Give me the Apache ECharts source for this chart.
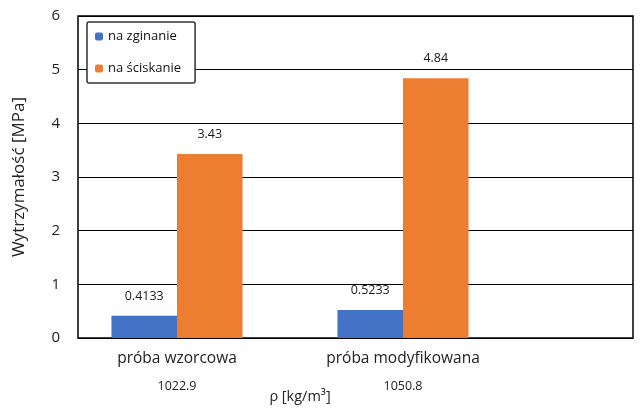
<!DOCTYPE html>
<html><head><meta charset="utf-8">
<script src="https://cdn.jsdelivr.net/npm/echarts@6/dist/echarts.min.js"></script>
<style>html,body{margin:0;padding:0;background:#fff}#c{width:640px;height:409px}</style>
</head><body><div id="c"></div>
<script>
const categories = ['próba wzorcowa', 'próba modyfikowana'];
const densities = ['1022.9', '1050.8'];
const seriesNames = ['na zginanie', 'na ściskanie'];
const bending = [0.4133, 0.5233];
const compression = [3.43, 4.84];
const yTicks = [0, 1, 2, 3, 4, 5, 6];

const chart = echarts.init(document.getElementById('c'), null, {renderer: 'canvas'});
const FONT = 'Open Sans';
const labelCfg = {show: true, position: 'top', distance: 13, color: '#1a1a1a', fontFamily: FONT, fontSize: 12.5};
chart.setOption({
  animation: false,
  backgroundColor: '#fff',
  grid: [
    {left: 78, right: 7, top: 16, bottom: 71, show: true, borderColor: '#000', borderWidth: 1.5, backgroundColor: 'transparent', outerBoundsMode: 'none', containLabel: false},
    {left: 64, right: 124, top: 16, bottom: 71, outerBoundsMode: 'none', containLabel: false}
  ],
  legend: {
    left: 87, top: 22, orient: 'vertical',
    data: seriesNames,
    backgroundColor: '#fff', borderColor: '#333', borderWidth: 1.5, borderRadius: 2,
    padding: [8, 14, 8, 8], itemWidth: 8, itemHeight: 8, itemGap: 19,
    textStyle: {fontFamily: FONT, fontSize: 13, color: '#111'}
  },
  xAxis: [
    {gridIndex: 0, type: 'category', data: categories, show: false},
    {gridIndex: 1, type: 'category', data: categories,
     axisLine: {show: false}, axisTick: {show: false},
     axisLabel: {margin: 10, interval: 0,
       formatter: (v, i) => `{a|${v}}\n{b|${densities[i]}}`,
       rich: {a: {fontFamily: FONT, fontSize: 15.5, color: '#222', lineHeight: 22},
              b: {fontFamily: FONT, fontSize: 12.5, color: '#222', lineHeight: 32}}},
     name: 'ρ [kg/m³]', nameLocation: 'middle', nameGap: 51, nameMoveOverlap: false,
     nameTextStyle: {fontFamily: FONT, fontSize: 14.5, color: '#222', padding: [0, 0, 0, 20]}}
  ],
  yAxis: [
    {gridIndex: 0, type: 'value', min: yTicks[0], max: yTicks[yTicks.length - 1], interval: 1,
     axisLine: {show: false}, axisTick: {show: false},
     axisLabel: {margin: 18, fontFamily: FONT, fontSize: 15, color: '#222'},
     splitLine: {lineStyle: {color: '#000', width: 1.2}},
     name: 'Wytrzymałość [MPa]', nameLocation: 'middle', nameGap: 50, nameMoveOverlap: false,
     nameTextStyle: {fontFamily: FONT, fontSize: 17, color: '#222'}},
    {gridIndex: 1, type: 'value', min: yTicks[0], max: yTicks[yTicks.length - 1], interval: 1, show: false}
  ],
  series: [
    {name: seriesNames[0], type: 'bar', xAxisIndex: 1, yAxisIndex: 1, data: bending,
     itemStyle: {color: '#4472C4'}, barGap: '0%', barCategoryGap: '42%', label: labelCfg},
    {name: seriesNames[1], type: 'bar', xAxisIndex: 1, yAxisIndex: 1, data: compression,
     itemStyle: {color: '#ED7D31'}, barGap: '0%', barCategoryGap: '42%', label: labelCfg}
  ]
});
</script></body></html>
